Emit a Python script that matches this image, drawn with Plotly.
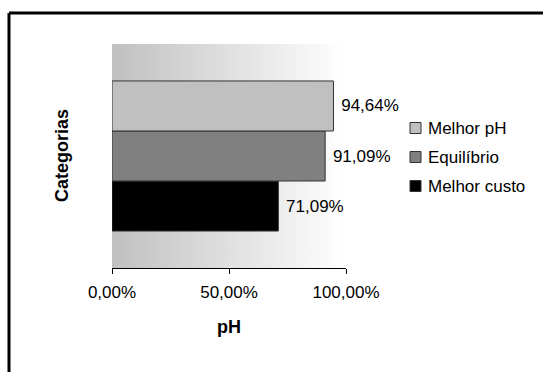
import base64
import plotly.graph_objects as go

# Series shown as horizontal bars (bottom to top in the group)
series_names = ["Melhor custo", "Equilíbrio", "Melhor pH"]
series_values = [0.7109, 0.9109, 0.9464]
series_colors = ["#000000", "#808080", "#c0c0c0"]
category = [""]
tick_values = [0, 0.5, 1.0]

FONT = "Liberation Sans, Arial, sans-serif"
SIZE = 17

fig = go.Figure()
for name, val, col in zip(series_names, series_values, series_colors):
    fig.add_trace(go.Bar(
        y=category,
        x=[val],
        name=name,
        orientation="h",
        showlegend=False,
        marker=dict(color=col, line=dict(color="#333333", width=1)),
        texttemplate=" %{x:.2%}",
        textposition="outside",
        cliponaxis=False,
        textfont=dict(family=FONT, size=SIZE, color="#000000"),
    ))

# Horizontal grey-to-white gradient for the plotting area
svg = (
    '<svg xmlns="http://www.w3.org/2000/svg" width="200" height="100" preserveAspectRatio="none">'
    '<defs><linearGradient id="g" x1="0" y1="0" x2="1" y2="0">'
    '<stop offset="0" stop-color="#c0c0c0"/><stop offset="1" stop-color="#ffffff"/>'
    '</linearGradient></defs><rect width="200" height="100" fill="url(#g)"/></svg>'
)
svg_uri = "data:image/svg+xml;base64," + base64.b64encode(svg.encode()).decode()

plot_w = 543 - 112 - 197
plot_h = 372 - 44 - 104


def px_x(px):
    return (px - 112) / plot_w


def px_y(py):
    return (372 - 104 - py) / plot_h


# Legend drawn as swatches + labels, top entry is the last series
legend_shapes = []
legend_notes = []
for i, (name, col) in enumerate(zip(reversed(series_names), reversed(series_colors))):
    cy = 128 + 29 * i
    legend_shapes.append(dict(
        type="rect", xref="paper", yref="paper",
        x0=px_x(410), x1=px_x(421), y0=px_y(cy - 5.5), y1=px_y(cy + 5.5),
        fillcolor=col, line=dict(color="#333333", width=1),
    ))
    legend_notes.append(dict(
        text=name, xref="paper", yref="paper", x=px_x(426), y=px_y(cy),
        xanchor="left", yanchor="middle", showarrow=False,
        font=dict(family=FONT, size=SIZE, color="#000000"),
    ))

fig.update_layout(
    width=543,
    height=372,
    margin=dict(l=112, r=197, t=44, b=104),
    paper_bgcolor="#ffffff",
    plot_bgcolor="rgba(0,0,0,0)",
    separators=",.",
    barmode="group",
    bargap=0.33,
    bargroupgap=0,
    showlegend=False,
    font=dict(family=FONT, size=SIZE, color="#000000"),
    images=[dict(
        source=svg_uri, xref="x domain", yref="y domain",
        x=0, y=1, sizex=1, sizey=1, xanchor="left", yanchor="top",
        sizing="stretch", layer="below",
    )],
    xaxis=dict(
        range=[0, 1],
        tickvals=tick_values,
        tickformat=".2%",
        showgrid=False,
        zeroline=False,
        showline=True,
        linecolor="#000000",
        linewidth=1,
        ticks="outside",
        ticklen=5,
        tickcolor="#000000",
        ticklabelstandoff=4,
        tickfont=dict(family=FONT, size=SIZE, color="#000000"),
        fixedrange=True,
    ),
    yaxis=dict(
        showticklabels=False,
        showgrid=False,
        zeroline=False,
        showline=False,
        ticks="",
        fixedrange=True,
    ),
    annotations=[
        dict(text="<b>pH</b>", xref="paper", yref="paper", x=0.5, y=px_y(327),
             xanchor="center", yanchor="middle", showarrow=False,
             font=dict(family=FONT, size=18, color="#000000")),
        dict(text="<b>Categorias</b>", xref="paper", yref="paper", x=px_x(62), y=0.5,
             xanchor="center", yanchor="middle", textangle=-90, showarrow=False,
             font=dict(family=FONT, size=18, color="#000000")),
    ] + legend_notes,
    # Outer chart frame: only its top and left edges fall inside the canvas
    shapes=[
        dict(type="line", xref="paper", yref="paper",
             x0=px_x(9), x1=px_x(560), y0=px_y(13), y1=px_y(13),
             line=dict(color="#000000", width=3)),
        dict(type="line", xref="paper", yref="paper",
             x0=px_x(9), x1=px_x(9), y0=px_y(13), y1=px_y(390),
             line=dict(color="#000000", width=3)),
    ] + legend_shapes,
)

fig.write_html("out.html")
